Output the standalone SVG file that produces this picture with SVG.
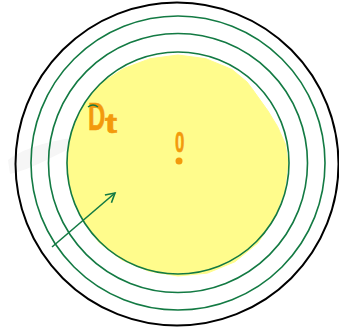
<svg xmlns="http://www.w3.org/2000/svg" width="339" height="331" viewBox="0 0 339 331">
<style>
.ring{fill:none;stroke:#137a43;stroke-width:1.6}
.lbl{fill:#f39a0c;stroke:#f39a0c;stroke-width:0.6;font-family:"Liberation Sans",sans-serif;font-weight:bold}
</style>
<defs>
<marker id="ah" viewBox="0 0 12 12" refX="10" refY="6" markerWidth="12" markerHeight="12" markerUnits="userSpaceOnUse" orient="auto">
<path d="M1,1 L10,6 L1,11" fill="none" stroke="#137a43" stroke-width="1.6"/>
</marker>
</defs>
<rect width="339" height="331" fill="#fff"/>
<path d="M8,160 C20,150 50,140 74,138 L76,146 C55,155 30,170 10,174 Z" fill="#f6f6f6"/>
<g id="outer">
<circle cx="177" cy="164" r="161.5" fill="none" stroke="#000" stroke-width="2"/>
</g>
<g id="rings">
<circle class="ring" cx="178" cy="163" r="147"/>
<circle class="ring" cx="178" cy="163" r="129.5"/>
</g>
<g id="disk">
<polygon points="81.9,107.5 99.5,84.5 123.5,68.6 150,58.7 178,55 205.9,58.7 232,69.5 247,82 253,90 268,111 277.6,126.7 285.3,144.1 288,163 284.3,191.5 274.1,218.5 257.9,242.9 235,261.7 207.5,273.1 178,276 149,271.2 122,260 98.8,242.2 81.9,218.5 70.8,191.7 67,163 70.8,134.3" fill="#fffc8c" stroke="#fffc8c" stroke-width="1" stroke-linejoin="round"/>
<circle class="ring" cx="178" cy="163" r="111"/>
</g>
<g id="connectors">
<line x1="52" y1="247" x2="115" y2="193" stroke="#137a43" stroke-width="1.6" marker-end="url(#ah)"/>
</g>
<g id="label-Dt">
<text class="lbl" font-size="38" transform="translate(88,130) scale(0.63,1)">D</text>
<text class="lbl" font-size="28" transform="translate(105,133) scale(1.3,1)">t</text>
<path d="M88,107 Q93,103 98,107" stroke="#137a43" stroke-width="1.4" fill="none"/>
</g>
<g id="point-O">
<text class="lbl" font-size="29" font-weight="normal" stroke-width="1" transform="translate(175,152) scale(0.58,1)">0</text>
<circle cx="179" cy="161" r="3.5" fill="#f39a0c"/>
</g>
</svg>
